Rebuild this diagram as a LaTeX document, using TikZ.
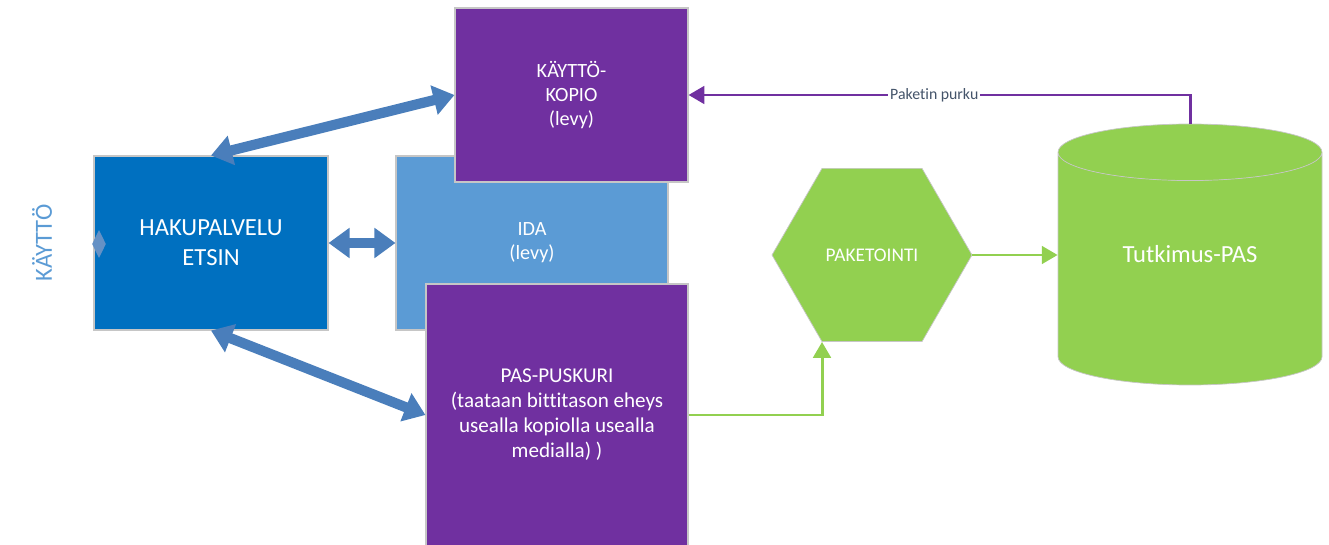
\documentclass[tikz,border=0pt]{standalone}
\usepackage{fontspec}
\setmainfont{Carlito}[Ligatures=NoCommon]
\usetikzlibrary{shapes.geometric,arrows.meta}
\definecolor{hakublue}{HTML}{0070C0}
\definecolor{idablue}{HTML}{5B9BD5}
\definecolor{pasviolet}{HTML}{7030A0}
\definecolor{pasgreen}{HTML}{92D050}
\definecolor{arrowblue}{HTML}{4A7EBB}
\definecolor{labelgray}{HTML}{44546A}

\begin{document}
\begin{tikzpicture}[
	box/.style={draw=gray!45, line width=0.6pt, text=white, align=center, inner sep=0pt, font=\fontsize{11.5}{13.8}\selectfont},
	blockarrow/.style={arrowblue, line width=5.8pt, {Triangle[length=0.42cm,width=0.58cm]}-{Triangle[length=0.42cm,width=0.58cm]}},
	flow/.style={line width=1.7pt, -{Triangle[length=9pt,width=10pt]}}]
	\useasboundingbox (0,0) rectangle (26.58,10.88);
	\node[box, fill=hakublue, minimum width=4.68cm, minimum height=3.48cm, font=\fontsize{14}{17}\selectfont] (haku) at (4.22,6.02) {HAKUPALVELU\\ETSIN};
	\node[diamond, aspect=0.5, fill=arrowblue!85, minimum width=0.28cm, minimum height=0.56cm, inner sep=0pt] (stub) at (1.98,6.0) {};
	\node[box, fill=idablue, minimum width=5.44cm, minimum height=3.48cm] (ida) at (10.64,6.02) {IDA\\(levy)};
	\node[box, fill=pasviolet, minimum width=4.66cm, minimum height=3.48cm] (kopio) at (11.43,8.98) {KÄYTTÖ-\\KOPIO\\(levy)};
	\node[box, fill=pasviolet, minimum width=5.24cm, minimum height=5.24cm, font=\fontsize{12}{14.2}\selectfont] (puskuri) at (11.14,2.58) {PAS-PUSKURI\\(taataan bittitason eheys\\usealla kopiolla usealla\\medialla) )};
	\node[regular polygon, regular polygon sides=6, minimum size=4cm, inner sep=0pt, draw=gray!45, fill=pasgreen, text=white, font=\fontsize{11}{13.6}\selectfont] (paketointi) at (17.44,5.78) {PAKETOINTI};
	\node[cylinder, shape border rotate=90, aspect=0.42, draw=gray!45, cylinder uses custom fill, cylinder body fill=pasgreen, cylinder end fill=pasgreen, minimum width=5.28cm, minimum height=5.22cm, inner sep=0pt, anchor=shape center, font=\fontsize{14}{17}\selectfont] (tpas) at (23.8,5.79) {\phantom{Tutkimus-PAS}};
	\node[text=white, font=\fontsize{14}{17}\selectfont] (tpastext) at (tpas.shape center) {Tutkimus-PAS};
	\node[rotate=90, text=idablue, font=\fontsize{14}{17}\selectfont] (kaytto) at (0.84,6.02) {KÄYTTÖ};
	\draw[blockarrow] (haku.north) -- (kopio.west);
	\draw[blockarrow] (haku.east) -- (ida.west);
	\draw[blockarrow] (haku.south) -- (puskuri.west);
	\draw[flow, pasgreen] (puskuri.east) -| ([xshift=-1cm]paketointi.south);
	\draw[flow, pasgreen] (paketointi.east) -- (paketointi.east -| tpas.west);
	\draw[flow, pasviolet] (tpas.north) |- node[pos=0.755, fill=white, text=labelgray, inner sep=1pt, font=\fontsize{9}{11}\selectfont] (purku) {Paketin purku} (kopio.east);
\end{tikzpicture}
\end{document}
